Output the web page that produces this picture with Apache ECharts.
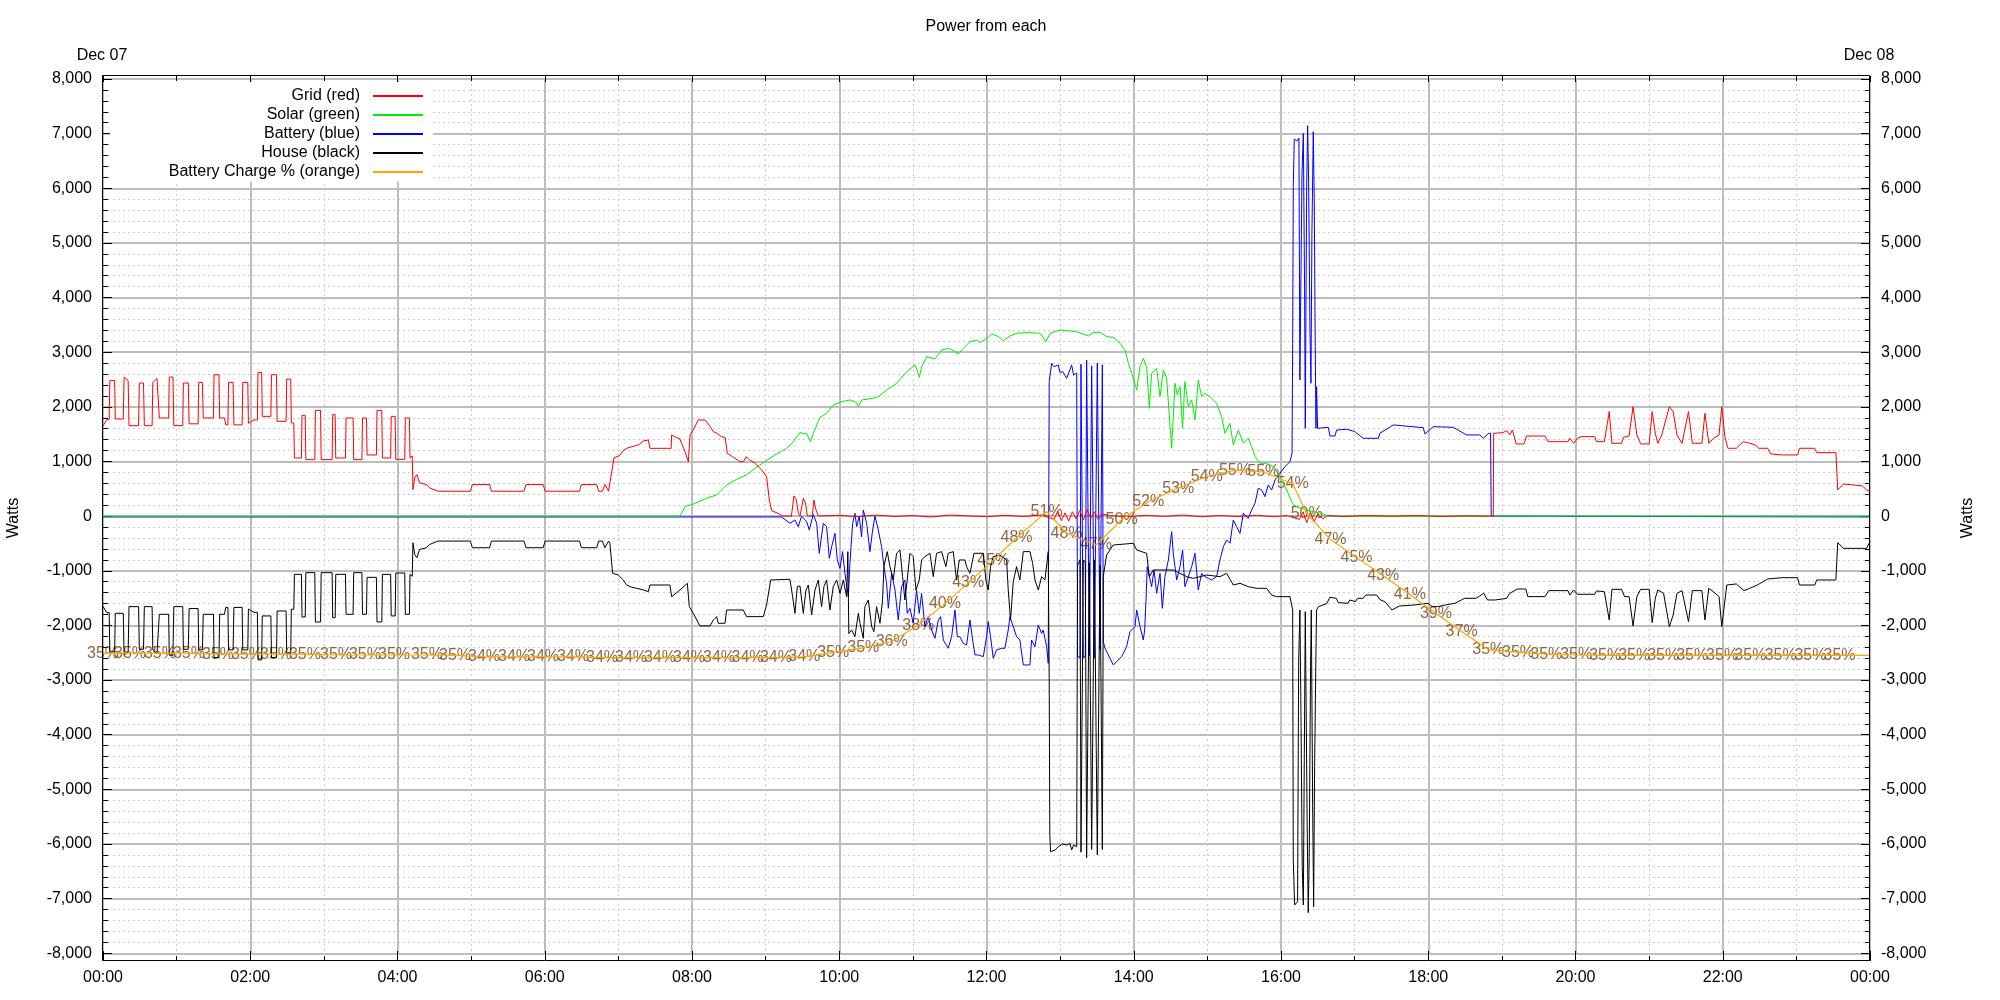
<!DOCTYPE html>
<html>
<head>
<meta charset="utf-8">
<script src="https://cdn.jsdelivr.net/npm/echarts@6.0.0/dist/echarts.min.js"></script>
<style>html,body{margin:0;padding:0;background:#fff}#c{width:2000px;height:1000px}</style>
</head>
<body>
<div id="c"></div>
<script>
// ---- data: [minute of day, watts] ----
const gridW = [
[0,1650],[3,1765],[5,1765],[5.6,2484],[9.5,2484],[10,1778],[16.5,1778],[17.2,2545],[20.5,2480],[21.2,1656],[29,1656],[29.6,2436],[33,2436],[33.7,1656],[40,1656],[40.6,2448],[44,2520],[45.5,2520],[45.9,1796],[53.5,1796],[54,2545],[57,2545],[57.7,1656],[65,1656],[65.5,2436],[69.5,2436],[70.2,1690],[77.5,1690],[78,2448],[81,2448],[81.7,1796],[90,1796],[90.5,2588],[94.5,2588],[95.1,1796],[99,1796],[100,1670],[101.8,1670],[102.3,2448],[106,2448],[106.7,1670],[113.4,1670],[113.9,2448],[118,2448],[118.5,1700],[123,1760],[125.8,1760],[126.3,2631],[129.3,2631],[129.8,1826],[136.8,1826],[137.3,2588],[141.4,2588],[141.9,1735],[149.2,1735],[149.7,2508],[153,2508],[153.5,1705],[155.5,1705],[156,1065],[161.7,1065],[162.2,1845],[164.8,1845],[165.3,1034],[172.6,1034],[173.1,1936],[177.3,1936],[177.8,1034],[186.7,1034],[187.2,1857],[189.2,1857],[189.7,1065],[197.6,1065],[198.1,1796],[203.8,1796],[204.3,1034],[211,1034],[211.5,1796],[214.7,1796],[215.2,1120],[222.8,1120],[223.3,1936],[227.2,1936],[227.7,1065],[234.4,1065],[234.9,1826],[238.1,1826],[238.6,1040],[245.9,1040],[246.4,1796],[249.7,1796],[250.2,1065],[252,1100],[252.6,486],[254,700],[255.8,760],[258,610],[263.6,578],[266,520],[272.9,456],[299.4,456],[301,578],[315,578],[316.6,456],[343.1,456],[344.7,578],[358.7,578],[360.3,456],[388.3,456],[389.9,578],[402.4,578],[403.9,456],[407,456],[409,578],[412,456],[416.4,1065],[421,1107],[424,1200],[427.3,1247],[436.7,1308],[440.3,1376],[444.4,1394],[445.8,1241],[463,1241],[463.4,1485],[467,1440],[470,1420],[474.3,1180],[477,997],[478.4,1485],[481,1577],[485.2,1760],[490.6,1760],[494,1669],[497.4,1546],[500,1520],[504,1455],[507,1440],[508.8,1150],[513,1089],[519.1,997],[522,997],[524,1089],[527,1030],[531.3,967],[536.8,845],[540.8,723],[543,296],[544.9,101],[550,52],[553.9,3],[561,3],[563.1,369],[565,300],[566.7,50],[568,3],[570.7,327],[572.5,240],[574,3],[578,3],[579.4,296],[581,120],[583,3],
[600,15],[615,-10],[630,20],[645,-5],[660,10],[675,-15],[690,20],[705,5],[720,-10],[735,15],[750,-5],[765,20],[775,-60],[778,90],[781,-80],[784,60],[787,-90],[790,80],[793,-50],[796,100],[799,-70],[802,120],[805,-40],[808,80],[811,-60],[814,40],[820,10],[835,-10],[850,15],[865,-5],[880,20],[895,-10],[910,10],[925,-5],[940,15],[955,-10],[965,10],[975,-60],[978,80],[981,-120],[984,60],[987,-100],[990,40],[994,-50],[998,10],[1010,-5],[1030,10],[1050,0],[1070,10],[1090,-5],[1110,5],[1133,0],
[1133.3,1516],[1140.8,1528],[1143.9,1565],[1146.4,1486],[1148.6,1577],[1151.7,1321],[1158,1321],[1160.1,1467],[1175.1,1467],[1177.6,1363],[1193.8,1363],[1195.4,1425],[1198.5,1333],[1201.6,1425],[1204.7,1455],[1215.7,1455],[1217.2,1363],[1223.5,1363],[1227.5,1913],[1229.7,1333],[1237.5,1333],[1239.1,1443],[1243.7,1467],[1246.9,2004],[1250,1486],[1253.1,1321],[1260,1321],[1262.5,1913],[1265,1516],[1267.1,1333],[1270.3,1486],[1271.8,1516],[1276.5,2004],[1279.6,1913],[1282.7,1486],[1286.8,1333],[1292.1,1913],[1295.2,1333],[1303,1333],[1305.5,1882],[1308.6,1333],[1312.4,1425],[1317,1486],[1319.2,2004],[1321.7,1455],[1324.2,1242],[1331.1,1242],[1336.7,1363],[1342,1333],[1346.7,1303],[1349.2,1242],[1356.6,1242],[1359.1,1138],[1368.5,1120],[1381,1120],[1382.5,1242],[1395,1242],[1396.6,1162],[1412.2,1162],[1413.7,479],[1418.4,589],[1434,553],[1437.1,479],[1440,449]
];

const solarW = [
[0,0],[470.2,0],[474.3,174],[481,223],[491.9,327],[500.1,388],[508.2,571],[516.4,674],[524.5,754],[531.3,876],[538.1,979],[546.3,1101],[557.1,1241],[562.6,1363],[568,1528],[573.5,1504],[576.7,1363],[578.9,1516],[584.3,1809],[589.8,1882],[595.2,2035],[602,2096],[608.8,2126],[614.2,2077],[615.6,2004],[618.3,2126],[627.8,2157],[631.9,2187],[638.7,2309],[646.8,2431],[655,2645],[661.8,2767],[663.1,2688],[665.3,2541],[667.2,2736],[671.3,2919],[678,2877],[683.5,3041],[688.9,3071],[693,3029],[697,2968],[701.1,3071],[706.6,3194],[712,3224],[714.7,3175],[720.2,3255],[724.2,3334],[729.7,3285],[733.7,3212],[739.2,3297],[744.6,3346],[752.8,3364],[763.6,3346],[768.5,3194],[771.8,3346],[779.9,3407],[785.4,3395],[793.5,3376],[803,3297],[807.1,3364],[812.5,3364],[818,3285],[823.4,3273],[828.9,3163],[832.9,3041],[835.6,2797],[838.4,2614],[842.4,2309],[845.1,2736],[847.8,2888],[850.5,2736],[852.7,1974],[854.6,2614],[858.7,2706],[861.4,2187],[864.1,2675],[866.8,2523],[870.9,1242],[873.6,2431],[875.5,2218],[877.7,2370],[879.8,1608],[881.7,2462],[884.5,2004],[887.2,2126],[889.9,1760],[892.6,2492],[895.3,2187],[898,2248],[902.1,2187],[907.5,2065],[911.6,1821],[914.3,1516],[918.4,1699],[921.1,1303],[925.2,1577],[929.3,1333],[933.3,1425],[936.1,1272],[938.8,1089],[942.8,967],[948.3,967],[953.7,906],[959.1,723],[964.6,479],[970,205],[975.4,150],[980.9,113],[991.7,52],[999.9,0],[1440,0]
];

const batteryW = [
[0,-15],[553,-15],[554.4,-30],[559.8,-130],[563.9,-70],[566.6,-192],[569.3,0],[573.4,-100],[575.6,-253],[578.8,30],[581.6,-130],[583.7,-680],[587,-131],[589.7,-192],[591.9,-771],[593.8,-558],[596.5,-313],[598.4,-802],[600.6,-954],[602.7,-649],[604.6,-1046],[607.4,-1473],[608.7,-863],[610.9,-131],[612.8,52],[614.2,-192],[616.3,0],[618.2,-375],[619.6,113],[622.3,-131],[625,-649],[627.2,-253],[629.1,0],[631.8,-253],[634.5,-557],[636.4,-924],[638.6,-1229],[640,-1686],[642.7,-1046],[645.4,-1351],[648.1,-1900],[650.8,-1290],[653.5,-1168],[655.4,-1778],[657.6,-1686],[660.3,-1961],[663,-1351],[665.2,-1778],[667.1,-1412],[669.8,-2022],[672.5,-1839],[675.3,-2083],[678,-2235],[680.7,-1900],[682.6,-1839],[684.8,-2266],[688.8,-2418],[691.6,-2205],[694.3,-1717],[696.2,-2205],[698.3,-2205],[701,-2327],[703.8,-2357],[706.5,-1900],[708.7,-2266],[710.6,-2540],[713.3,-2540],[717.4,-2571],[720.1,-2205],[721.4,-1930],[723.3,-2205],[725.5,-2601],[728.2,-2449],[732.3,-2418],[735,-2418],[737.7,-2083],[739.1,-1839],[741.8,-2022],[744.5,-2205],[747.2,-2266],[750,-2723],[755.4,-2723],[756.7,-2266],[759.5,-2388],[762.2,-1992],[764.9,-2144],[766.2,-2083],[769,-2388],[770.3,-2693],
[771.1,2462],[773.1,2797],[775,2735],[778.5,2767],[780,2620],[782,2650],[785.3,2523],[787,2620],[789.4,2767],[791,2580],[793.5,2620],[794.2,-2550],[796.2,-2600],[797,2780],[798.9,-2600],[800.5,-2550],[801.6,2858],[803.8,-2550],[805.7,2750],[807.9,-2600],[810.3,2800],[812.5,-2450],[814.4,2770],[815.2,-2300],
[816.6,-2419],[819.3,-2540],[823.3,-2724],[826.1,-2662],[830.1,-2571],[834.2,-2388],[836.9,-2114],[841,-2022],[842.4,-1717],[845.1,-2022],[847.8,-2266],[848.9,-2083],[850,-1534],[851,-924],[852.7,-1107],[854.6,-1290],[856.5,-985],[858.7,-1412],[861.4,-1046],[863.3,-1687],[865.4,-1107],[868.2,-802],[870.9,-284],[872.2,-680],[875,-1168],[877.7,-924],[879.8,-619],[881.7,-1290],[884.5,-1107],[887.2,-924],[889.9,-680],[892.6,-1351],[895.3,-1046],[898,-1107],[900.8,-1138],[903.5,-1168],[907.5,-1107],[910.3,-802],[913,-558],[915.7,-436],[918.4,-497],[921.1,-71],[923.8,-192],[926.6,-314],[929.3,52],[933.3,-40],[936.1,113],[938.8,235],[941.5,510],[944.2,480],[946.9,357],[949.6,570],[952.4,480],[955.1,662],[959.1,784],[963.2,906],[967.3,997],[969,1150],
[969.5,3163],[970,6030],[970.8,6896],[973.5,6870],[974.6,6920],[975.4,2492],[976.3,2462],[977.1,6244],[978.2,7006],[979.2,4200],[979.8,1607],[980.3,1607],[980.9,5969],[981.7,7146],[982.5,6152],[983.6,3407],[984.4,2431],[985.2,5176],[986.3,7036],[987.1,5786],[987.9,3102],[988.5,1607],[989,2370],[989.8,1607],
[990.4,1608],[998.5,1626],[999.9,1467],[1004,1467],[1005.3,1577],[1013.5,1590],[1020,1550],[1027,1425],[1039.3,1425],[1040.6,1516],[1051.5,1669],[1075.9,1620],[1077.3,1504],[1084.1,1638],[1100.4,1626],[1111.2,1486],[1122.1,1486],[1125,1425],[1128.9,1516],[1130.8,1516],[1131.3,0],[1131.8,-15],[1440,-15]
];

const houseW = [
[0,-1650],[3,-1765],[5,-1765],[5.6,-2484],[9.5,-2484],[10,-1778],[16.5,-1778],[17.2,-2545],[20.5,-2480],[21.2,-1656],[29,-1656],[29.6,-2436],[33,-2436],[33.7,-1656],[40,-1656],[40.6,-2448],[44,-2520],[45.5,-2520],[45.9,-1796],[53.5,-1796],[54,-2545],[57,-2545],[57.7,-1656],[65,-1656],[65.5,-2436],[69.5,-2436],[70.2,-1690],[77.5,-1690],[78,-2448],[81,-2448],[81.7,-1796],[90,-1796],[90.5,-2588],[94.5,-2588],[95.1,-1796],[99,-1796],[100,-1670],[101.8,-1670],[102.3,-2448],[106,-2448],[106.7,-1670],[113.4,-1670],[113.9,-2448],[118,-2448],[118.5,-1700],[123,-1760],[125.8,-1760],[126.3,-2631],[129.3,-2631],[129.8,-1826],[136.8,-1826],[137.3,-2588],[141.4,-2588],[141.9,-1735],[149.2,-1735],[149.7,-2508],[153,-2508],[153.5,-1705],[155.5,-1705],[156,-1065],[161.7,-1065],[162.2,-1845],[164.8,-1845],[165.3,-1034],[172.6,-1034],[173.1,-1936],[177.3,-1936],[177.8,-1034],[186.7,-1034],[187.2,-1857],[189.2,-1857],[189.7,-1065],[197.6,-1065],[198.1,-1796],[203.8,-1796],[204.3,-1034],[211,-1034],[211.5,-1796],[214.7,-1796],[215.2,-1120],[222.8,-1120],[223.3,-1936],[227.2,-1936],[227.7,-1065],[234.4,-1065],[234.9,-1826],[238.1,-1826],[238.6,-1040],[245.9,-1040],[246.4,-1796],[249.7,-1796],[250.2,-1065],[252,-1100],[252.6,-486],[254,-700],[255.8,-760],[258,-610],[263.6,-578],[266,-520],[272.9,-456],[299.4,-456],[301,-578],[315,-578],[316.6,-456],[343.1,-456],[344.7,-578],[358.7,-578],[360.3,-456],[388.3,-456],[389.9,-578],[402.4,-578],[403.9,-456],[407,-456],[409,-578],[412,-456],
[413.1,-497],[415.3,-1046],[419.9,-1077],[424,-1168],[426.7,-1260],[430.8,-1302],[434.9,-1320],[440.3,-1350],[444.4,-1382],[445.7,-1260],[462,-1260],[463.4,-1473],[464.8,-1443],[470.2,-1351],[476.2,-1229],[477.8,-1656],[481,-1778],[486.5,-2009],[494.6,-2009],[497.4,-1900],[500.1,-1839],[501.4,-1961],[506.9,-1961],[508.2,-1717],[521.8,-1717],[524.5,-1839],[538.1,-1839],[540.8,-1625],[544.1,-1168],[559.8,-1155],
[562,-1473],[563.9,-1778],[565.8,-1290],[568,-1278],[570.7,-1778],[572.9,-1351],[574.8,-1260],[577.5,-1808],[580.2,-1351],[582.9,-1168],[585.6,-1656],[587.5,-1290],[589.7,-1168],[592.4,-1717],[595.1,-1290],[597.9,-1168],[600.6,-1412],[603.3,-1168],[606,-1473],[607,-650],[607.8,-2150],[610.1,-2083],[612.8,-2205],[615.5,-1778],[616.9,-1961],[619.6,-2235],[620.9,-1656],[623.7,-1534],[626.4,-2022],[628.3,-2113],[630.4,-1656],[633.2,-1961],[635.3,-1534],[636.4,-924],[639.1,-649],[641.3,-924],[644,-1168],[646.7,-680],[649.5,-619],[651.6,-1107],[653.5,-1534],[655.4,-1168],[657.6,-680],[660.3,-741],[662.5,-1351],[665.2,-1168],[667.1,-802],[669.8,-741],[673.9,-680],[676.6,-1107],[679.3,-680],[683.4,-649],[686.9,-924],[688.8,-680],[692.9,-649],[695.6,-1168],[697.8,-802],[702.4,-802],[703.8,-924],[706.5,-1046],[709.8,-680],[717.4,-680],[719.5,-1168],[721.4,-1351],[723.3,-924],[725.5,-741],[730.9,-710],[736.4,-802],[737.7,-1351],[739.6,-1900],[741.8,-1198],[744.5,-924],[747.2,-1168],[750,-649],[755.4,-649],[757.6,-863],[759.5,-1168],[762.2,-1351],[764.9,-1107],[767.6,-1168],[770.3,-649],
[771.1,-3000],[771.6,-5835],[772.2,-6140],[776,-6110],[778.5,-6048],[782,-6000],[785.3,-6020],[788,-5990],[789.4,-6110],[791,-6020],[793.5,-6050],[794.2,-900],[796.2,-800],[797,-6150],[798.9,-800],[800.5,-850],[801.6,-6250],[803.8,-850],[805.7,-6100],[807.9,-800],[810.3,-6200],[812.5,-900],[814.4,-6100],[815.2,-1100],
[816.6,-894],[817.9,-711],[823.3,-528],[839.6,-497],[842.4,-619],[850.5,-680],[852.7,-1107],[855.9,-985],[872.2,-985],[883.1,-1107],[888.5,-1138],[894,-1107],[899.4,-1077],[910.3,-1107],[915.7,-1046],[921.1,-1260],[926.6,-1229],[933.3,-1290],[940.1,-1321],[948.3,-1321],[952.4,-1443],[956.4,-1473],[967.3,-1473],[969.5,-1717],
[970,-6292],[971.1,-7116],[973.5,-7055],[974.4,-2632],[975.4,-1717],[976.3,-3670],[977.3,-6414],[978.2,-7116],[979,-4340],[979.8,-1748],[980.9,-1717],[981.4,-5800],[982.2,-7256],[983,-6230],[984.1,-2754],[984.7,-1717],[985.8,-5316],[986.6,-7146],[987.4,-4584],[988.5,-2449],[989,-1717],
[990.5,-1656],[997.3,-1600],[999.8,-1485],[1005.1,-1504],[1006.7,-1582],[1014.5,-1595],[1016,-1534],[1020.7,-1565],[1022.3,-1504],[1027,-1504],[1029.1,-1443],[1037.9,-1443],[1041,-1534],[1044.7,-1565],[1050.4,-1717],[1056.6,-1644],[1069.1,-1625],[1075.3,-1607],[1080,-1595],[1083.1,-1656],[1087.8,-1656],[1094,-1625],[1101.8,-1595],[1109.6,-1504],[1119,-1504],[1125.2,-1412],[1128.3,-1534],[1134.6,-1534],[1143.9,-1504],[1146.4,-1412],[1152.7,-1333],[1159.5,-1333],[1161.1,-1473],[1175.1,-1473],[1178.2,-1363],[1193.8,-1363],[1195.4,-1443],[1198.5,-1351],[1201.6,-1430],[1215.7,-1430],[1217.2,-1369],[1223.5,-1382],[1227.5,-1900],[1229.7,-1339],[1237.5,-1339],[1240,-1473],[1243.7,-1473],[1246.9,-2010],[1250,-1473],[1253.1,-1339],[1260,-1339],[1262.5,-1949],[1265,-1504],[1267.1,-1351],[1271.8,-1412],[1276.5,-2022],[1279.6,-1808],[1282.7,-1412],[1286.8,-1363],[1292.1,-1931],[1295.2,-1363],[1303,-1363],[1305.5,-1900],[1308.6,-1321],[1312.4,-1382],[1317,-1473],[1319.2,-2022],[1323.3,-1260],[1331.1,-1241],[1337.3,-1363],[1342,-1321],[1348.2,-1260],[1356.6,-1150],[1368.5,-1126],[1381,-1126],[1382.5,-1260],[1395,-1260],[1396.6,-1168],[1412.2,-1168],[1413.7,-485],[1418.4,-589],[1437.1,-589],[1440,-468]
];

// battery state of charge (%), one entry per printed label
const chargeTime = [0,22,46.4,70,93.7,117.3,141,164.6,189.9,213.5,237.2,264,286.9,310.5,335,358.6,383,406.7,430.3,453.9,477.6,502,525.3,548.4,571.5,595.1,619.6,642.7,664.4,686.1,705.1,725.5,744.5,769,785.3,809.2,830.1,851.8,876.2,899.4,922.5,945.6,969.5,980.9,1000.4,1021.6,1043.3,1065,1086.3,1107.2,1128.9,1153.2,1176.2,1200.6,1224.2,1247.8,1271.5,1295.1,1319.5,1342.5,1367.2,1391.5,1415.2];
const chargePct = [34.8,34.8,34.8,34.8,34.7,34.7,34.7,34.7,34.6,34.6,34.6,34.6,34.55,34.4,34.4,34.4,34.4,34.3,34.3,34.3,34.3,34.3,34.3,34.3,34.4,34.9,35.4,36.1,37.9,40.3,42.6,45.1,47.6,50.5,48.1,46.8,49.6,51.6,53.1,54.4,55.1,54.9,53.6,50.3,47.4,45.4,43.4,41.3,39.2,37.2,35.2,34.9,34.7,34.6,34.55,34.55,34.55,34.55,34.55,34.55,34.55,34.55,34.55];
const chargeEnd = [1440, 34.55];

const seriesNames = ['Grid (red)','Solar (green)','Battery (blue)','House (black)','Battery Charge % (orange)'];
const xTickLabels = ['00:00','02:00','04:00','06:00','08:00','10:00','12:00','14:00','16:00','18:00','20:00','22:00','00:00'];

// ---- chart ----
const FONT = "'Liberation Sans', Arial, Helvetica, sans-serif";
const fmtW = v => (v < 0 ? '-' : '') + String(Math.abs(v)).replace(/\B(?=(\d{3})+(?!\d))/g, ',');
const fmtT = v => xTickLabels[Math.round(v / 120)];

const chargeLine = chargeTime.map((t, i) => [t, chargePct[i]]).concat([chargeEnd]);
const chargeLabels = chargeTime.map((t, i) => [t, chargePct[i]]);

const majorGrid = {show: true, lineStyle: {color: '#bdbdbd', width: 2}};
const minorGrid = {show: true, lineStyle: {color: '#cccccc', width: 1, type: [2, 3]}};
const tickStyle = {color: '#000', width: 1};

const chart = echarts.init(document.getElementById('c'), null, {renderer: 'canvas'});
chart.setOption({
  animation: false,
  backgroundColor: '#fff',
  textStyle: {fontFamily: FONT},
  grid: {left: 103, right: 130, top: 79, bottom: 46.7, containLabel: false, outerBoundsMode: 'none'},
  legend: {
    data: seriesNames,
    orient: 'vertical',
    align: 'right',
    right: 1567,
    top: 82,
    padding: [4.5, 9, 0, 59],
    itemWidth: 50,
    itemHeight: 2,
    itemGap: 0,
    backgroundColor: '#fff',
    selectedMode: false,
    itemStyle: {opacity: 0},
    textStyle: {fontSize: 16, fontFamily: FONT, color: '#000', lineHeight: 19, padding: [0, 8, 0, 0]}
  },
  xAxis: [
    {type: 'value', position: 'bottom', min: 0, max: 1440, interval: 120, offset: 7.7,
     axisLine: {show: false, onZero: false},
     axisTick: {show: true, inside: true, length: 10, lineStyle: tickStyle},
     minorTick: {show: true, splitNumber: 2, length: 5, lineStyle: tickStyle},
     axisLabel: {formatter: fmtT, fontSize: 16, color: '#000', margin: 9, fontFamily: FONT, showMinLabel: true, showMaxLabel: true},
     splitLine: majorGrid, minorSplitLine: minorGrid},
    {type: 'value', position: 'top', min: 0, max: 1440, interval: 120, offset: 3,
     axisLine: {show: false, onZero: false},
     axisTick: {show: true, inside: true, length: 6, lineStyle: tickStyle},
     minorTick: {show: true, splitNumber: 2, length: 5, lineStyle: tickStyle},
     axisLabel: {show: false}, splitLine: {show: false}, minorSplitLine: {show: false}}
  ],
  yAxis: [
    {type: 'value', position: 'left', min: -8000, max: 8000, interval: 1000,
     axisLine: {show: false, onZero: false},
     axisTick: {show: true, inside: true, length: 9, lineStyle: tickStyle},
     minorTick: {show: true, splitNumber: 5, length: 5, lineStyle: tickStyle},
     axisLabel: {formatter: fmtW, fontSize: 16, color: '#000', margin: 11, fontFamily: FONT, showMinLabel: true, showMaxLabel: true},
     splitLine: majorGrid, minorSplitLine: minorGrid},
    {type: 'value', position: 'right', min: -8000, max: 8000, interval: 1000,
     axisLine: {show: false, onZero: false},
     axisTick: {show: true, inside: true, length: 9, lineStyle: tickStyle},
     minorTick: {show: true, splitNumber: 5, length: 5, lineStyle: tickStyle},
     axisLabel: {formatter: fmtW, fontSize: 16, color: '#000', margin: 11, fontFamily: FONT, showMinLabel: true, showMaxLabel: true},
     splitLine: {show: false}, minorSplitLine: {show: false}},
    {type: 'value', show: false, position: 'right', min: 50 - 8000 / 165, max: 50 + 8000 / 165,
     axisLine: {show: false, onZero: false}, splitLine: {show: false}}
  ],
  series: [
    {name: seriesNames[2], type: 'line', data: batteryW, symbol: 'none', color: '#0000ff', lineStyle: {color: '#0000ff', width: 1}},
    {name: seriesNames[1], type: 'line', data: solarW, symbol: 'none', color: '#00ee00', lineStyle: {color: '#00ee00', width: 1}},
    {name: seriesNames[0], type: 'line', data: gridW, symbol: 'none', color: '#ff0000', lineStyle: {color: '#ff0000', width: 1}},
    {name: seriesNames[3], type: 'line', data: houseW, symbol: 'none', color: '#000000', lineStyle: {color: '#000000', width: 1}},
    {name: seriesNames[4], type: 'line', yAxisIndex: 2, data: chargeLine, symbol: 'none', color: '#ffa500', lineStyle: {color: '#ffa500', width: 1.2}},
    {name: 'chargeLabels', type: 'scatter', yAxisIndex: 2, data: chargeLabels, symbolSize: 1, silent: true,
     itemStyle: {color: 'rgba(0,0,0,0)'},
     label: {show: true, position: 'inside', fontSize: 16, fontFamily: FONT, color: '#74400f',
             formatter: p => Math.round(p.value[1]) + '%'}}
  ],
  graphic: [
    {type: 'rect', silent: true, z: 100, shape: {x: 102.5, y: 75.5, width: 1767, height: 885}, style: {fill: 'none', stroke: '#000', lineWidth: 1}},
    {type: 'text', silent: true, z: 100, x: 986, y: 27, style: {text: 'Power from each', font: '16px ' + FONT, fill: '#000', align: 'center', verticalAlign: 'middle', textAlign: 'center', textVerticalAlign: 'middle'}},
    {type: 'text', silent: true, z: 100, x: 102, y: 56, style: {text: 'Dec 07', font: '16px ' + FONT, fill: '#000', align: 'center', verticalAlign: 'middle', textAlign: 'center', textVerticalAlign: 'middle'}},
    {type: 'text', silent: true, z: 100, x: 1869, y: 56, style: {text: 'Dec 08', font: '16px ' + FONT, fill: '#000', align: 'center', verticalAlign: 'middle', textAlign: 'center', textVerticalAlign: 'middle'}},
    {type: 'text', silent: true, z: 100, x: 14, y: 518, rotation: Math.PI / 2, style: {text: 'Watts', font: '16px ' + FONT, fill: '#000', align: 'center', verticalAlign: 'middle', textAlign: 'center', textVerticalAlign: 'middle'}},
    {type: 'text', silent: true, z: 100, x: 1968, y: 518, rotation: Math.PI / 2, style: {text: 'Watts', font: '16px ' + FONT, fill: '#000', align: 'center', verticalAlign: 'middle', textAlign: 'center', textVerticalAlign: 'middle'}}
  ]
});
</script>
</body>
</html>
